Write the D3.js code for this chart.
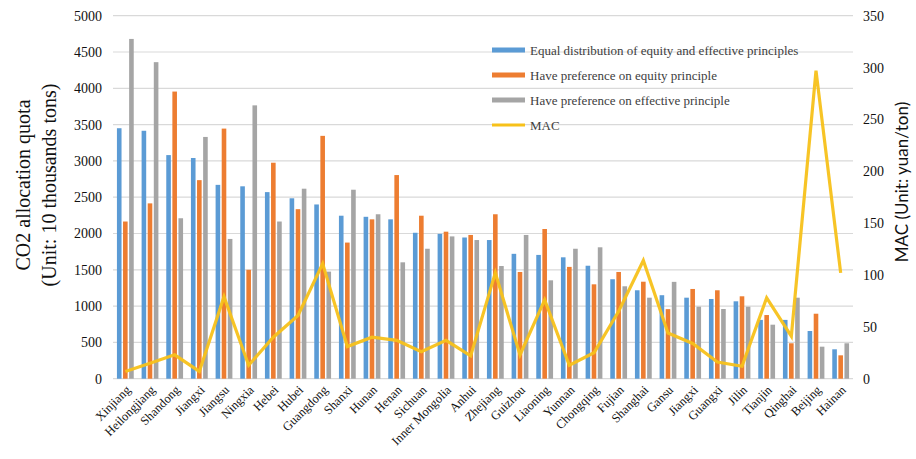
<!DOCTYPE html>
<html>
<head>
<meta charset="utf-8">
<script src="https://cdn.jsdelivr.net/npm/d3@7"></script>
<style>
  html, body { margin: 0; padding: 0; background: #fff; }
  svg { display: block; }
</style>
</head>
<body>
<svg id="chart" width="916" height="459"></svg>
<script>
// Provinces, in the order the allocations are ranked
const provinces = ["Xinjiang","Heilongjiang","Shandong","Jiangxi","Jiangsu","Ningxia","Hebei","Hubei",
  "Guangdong","Shanxi","Hunan","Henan","Sichuan","Inner Mongolia","Anhui","Zhejiang","Guizhou",
  "Liaoning","Yunnan","Chongqing","Fujian","Shanghai","Gansu","Jiangxi","Guangxi","Jilin",
  "Tianjin","Qinghai","Beijing","Hainan"];

// CO2 allocation quota (10 thousand tons) under each scheme
const equalPrinciples = [3450,3415,3080,3040,2670,2650,2570,2485,2400,2245,2230,2195,2010,1995,1945,
  1910,1720,1705,1672,1556,1370,1218,1150,1116,1098,1066,810,810,657,405];
const equityPreference = [2165,2415,3955,2735,3445,1500,2975,2335,3345,1875,2195,2805,2245,2025,1980,
  2265,1470,2062,1540,1300,1470,1336,958,1236,1218,1135,877,488,895,322];
const effectivePreference = [4680,4360,2210,3330,1925,3765,2165,2617,1475,2603,2265,1603,1790,1960,1910,
  1552,1980,1355,1790,1810,1273,1116,1334,992,960,992,744,1116,441,488];

// Marginal abatement cost (yuan/ton)
const mac = [7,15,23,7,79,13,40,61,111,31,40,37,26,37,22,102,23,76,13,25,65,114,44,34,16,12,78,41,297,102];

const seriesNames = ["Equal distribution of equity and effective principles",
  "Have preference on equity principle","Have preference on effective principle","MAC"];
const seriesColors = ["#5B9BD5","#ED7D31","#A5A5A5","#F7C11A"];

const leftTicks = [0,500,1000,1500,2000,2500,3000,3500,4000,4500,5000];
const rightTicks = [0,50,100,150,200,250,300,350];

const svg = d3.select("#chart");
const plot = { left: 113, right: 853, top: 15.7, bottom: 378.7 };

const idx = d3.range(provinces.length);
const x = d3.scaleBand().domain(idx).range([plot.left, plot.right]).paddingInner(0).paddingOuter(0);
const yL = d3.scaleLinear().domain([0, 5000]).range([plot.bottom, plot.top]);
const yR = d3.scaleLinear().domain([0, 350]).range([plot.bottom, plot.top]);

// Horizontal gridlines
svg.append("g").selectAll("line").data(leftTicks).join("line")
  .attr("x1", plot.left).attr("x2", plot.right)
  .attr("y1", d => yL(d)).attr("y2", d => yL(d))
  .attr("stroke", "#D9D9D9").attr("stroke-width", 1.2);

// Left axis
const leftAxis = svg.append("g").attr("transform", `translate(${plot.left},0)`)
  .call(d3.axisLeft(yL).tickValues(leftTicks).tickSize(0).tickPadding(11).tickFormat(d3.format("d")));
leftAxis.select(".domain").remove();
leftAxis.selectAll("text").attr("font-family", "'Liberation Serif', serif").attr("font-size", 14)
  .attr("fill", "#111");

// Right axis
const rightAxis = svg.append("g").attr("transform", `translate(${plot.right},0)`)
  .call(d3.axisRight(yR).tickValues(rightTicks).tickSize(0).tickPadding(10).tickFormat(d3.format("d")));
rightAxis.select(".domain").remove();
rightAxis.selectAll("text").attr("font-family", "'Liberation Serif', serif").attr("font-size", 14)
  .attr("fill", "#111");

// Bars: three series side by side within each province band
const barW = 4.6, barStep = 6.1;
const groups = [equalPrinciples, equityPreference, effectivePreference];
groups.forEach((vals, s) => {
  svg.append("g").selectAll("rect").data(idx).join("rect")
    .attr("x", i => x(i) + x.bandwidth() / 2 - barW / 2 + (s - 1) * barStep)
    .attr("y", i => yL(vals[i]))
    .attr("width", barW)
    .attr("height", i => yL(0) - yL(vals[i]))
    .attr("fill", seriesColors[s]);
});

// MAC line on the right axis
const line = d3.line().x(i => x(i) + x.bandwidth() / 2).y(i => yR(mac[i]));
svg.append("path").datum(idx).attr("d", line)
  .attr("fill", "none").attr("stroke", seriesColors[3]).attr("stroke-width", 3.2)
  .attr("stroke-linejoin", "miter").attr("stroke-opacity", 0.95);

// Province labels, rotated
svg.append("g").selectAll("text").data(idx).join("text")
  .attr("transform", i => `translate(${x(i) + x.bandwidth() / 2 + 6},${plot.bottom + 12}) rotate(-45)`)
  .attr("text-anchor", "end")
  .attr("font-family", "'Liberation Serif', serif").attr("font-size", 12.5)
  .attr("fill", "#111")
  .text(i => provinces[i]);

// Left axis title (two lines)
const ltitle = svg.append("text")
  .attr("transform", "translate(30,185) rotate(-90)")
  .attr("text-anchor", "middle")
  .attr("font-family", "'Liberation Serif', serif").attr("font-size", 20).attr("fill", "#111");
ltitle.append("tspan").attr("x", 0).attr("dy", 0).text("CO2 allocation quota");
ltitle.append("tspan").attr("x", 0).attr("dy", 26).text("(Unit: 10 thousands tons)");

// Right axis title
svg.append("text")
  .attr("transform", "translate(908,182) rotate(-90)")
  .attr("text-anchor", "middle")
  .attr("font-family", "Lato, sans-serif").attr("font-size", 17).attr("fill", "#111")
  .text("MAC (Unit: yuan/ton)");

// Legend
const legend = svg.append("g").attr("transform", "translate(492,50)");
seriesNames.forEach((name, s) => {
  const row = legend.append("g").attr("transform", `translate(0,${s * 25})`);
  if (s < 3) {
    row.append("rect").attr("x", 0).attr("y", -2.5).attr("width", 33).attr("height", 5)
      .attr("fill", seriesColors[s]);
  } else {
    row.append("line").attr("x1", 0).attr("x2", 33).attr("y1", 0).attr("y2", 0)
      .attr("stroke", seriesColors[s]).attr("stroke-width", 3);
  }
  row.append("text").attr("x", 38).attr("y", 4.5)
    .attr("font-family", "'Liberation Serif', serif").attr("font-size", 13).attr("fill", "#404040")
    .text(name);
});
</script>
</body>
</html>
